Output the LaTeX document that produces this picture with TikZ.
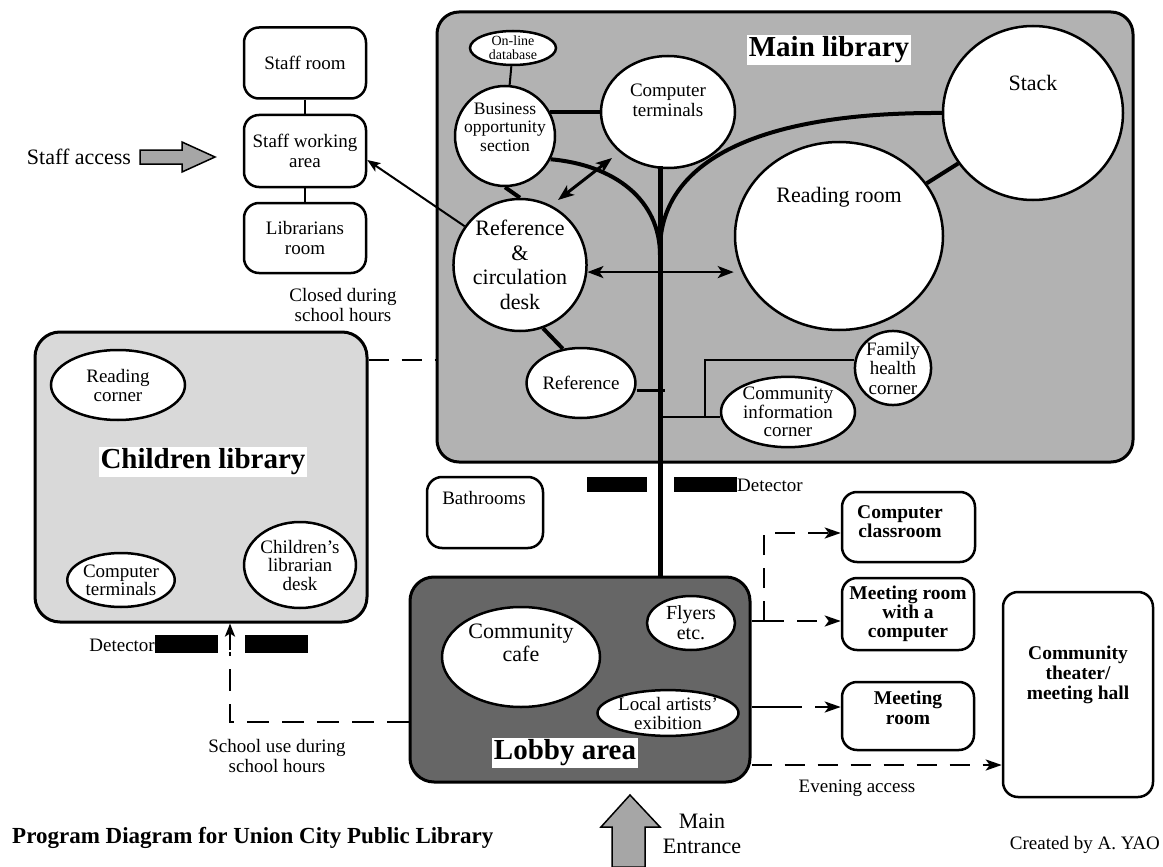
\documentclass[tikz,border=0pt]{standalone}
\usepackage{fontspec}
\setmainfont{Liberation Serif}
\usetikzlibrary{shapes.geometric,arrows.meta,calc}
\newcommand\fsz[2]{\fontsize{#1}{#2}\selectfont}

\begin{document}
\begin{tikzpicture}[x=1pt,y=-1pt,
  room/.style={draw,line width=2.5pt,rounded corners=15pt,align=center,inner sep=0pt,font=\fsz{19}{20}},
  bigroom/.style={room,font=\bfseries\fsz{19.5}{19}},
  zone/.style={draw,line width=3pt,rounded corners=22pt,inner sep=0pt},
  oval/.style={ellipse,draw,line width=2.5pt,fill=white,inner sep=0pt,align=center,font=\fsz{19}{19}},
  txt/.style={align=center,inner sep=0pt,font=\fsz{19}{20}},
  title/.style={fill=white,inner sep=2pt,font=\bfseries\fsz{29}{29}},
  heavy/.style={line width=4pt},
  link/.style={line width=2pt},
  spine/.style={line width=5pt},
  dashlink/.style={line width=2.5pt,dash pattern=on 20pt off 13pt},
  tip/.style={-{Stealth[length=16pt,width=11pt,inset=4pt]}},
  smalltip/.style={-{Stealth[length=13pt,width=10pt,inset=3pt]}},
  twotip/.style={{Stealth[length=16pt,width=12pt,inset=4pt]}-{Stealth[length=16pt,width=12pt,inset=4pt]}},
  detector/.style={fill=black},
  bigarrow/.style={draw,line width=1.5pt,fill=black!35,line join=miter},
]
\useasboundingbox (0,0) rectangle (1163,867);

% ---------- staff wing ----------
\node[room,minimum width=122pt,minimum height=71pt] (staffroom) at (305,63) {Staff room};
\node[room,minimum width=122pt,minimum height=72pt] (staffwork) at (305,151) {Staff working\\area};
\node[room,minimum width=122pt,minimum height=70pt] (librarians) at (305,238) {Librarians\\room};
\draw[link] (staffroom) -- (staffwork);
\draw[link] (staffwork) -- (librarians);
\node[txt,font=\fsz{22}{22}] (staffaccess) at (79,157) {Staff access};
\draw[bigarrow] (140,150) -- (182,150) -- (182,142) -- (215,157) -- (182,172) -- (182,164) -- (140,164) -- cycle;
\node[txt] (closed) at (343,305) {Closed during\\school hours};

% ---------- main library ----------
\node[zone,fill=black!30,minimum width=696pt,minimum height=450pt] (mainlib) at (785,237) {};
\node[title] (maintitle) at (829,50) {Main library};

\coordinate (spinetop) at (660,166);
\coordinate (leftjoin) at (660,255);
\coordinate (rightjoin) at (660,250);

\node[oval,minimum width=86pt,minimum height=34pt,font=\fsz{14}{14}] (online) at (513,48) {On-line\\database};
\node[oval,minimum width=100pt,minimum height=100pt] (business) at (505,136) {};
\node[txt,font=\fsz{17.5}{18.5}] at (505,127) {Business\\opportunity\\section};
\node[oval,minimum width=134pt,minimum height=112pt] (compterm) at (668,112) {};
\node[txt] at (668,100) {Computer\\terminals};
\node[oval,minimum width=132pt,minimum height=132pt,font=\fsz{22}{24.5}] (refdesk) at (520,265) {Reference\\\&\\circulation\\desk};
\node[oval,minimum width=208pt,minimum height=188pt] (reading) at (839,236) {};
\node[txt,font=\fsz{22}{22}] at (839,197) {Reading room};
\node[oval,minimum width=180pt,minimum height=174pt] (stack) at (1033,113) {};
\node[txt,font=\fsz{22}{22}] at (1033,83) {Stack};
\node[oval,minimum width=102pt,minimum height=70pt] (reference) at (581,383) {Reference};
\node[oval,minimum width=134pt,minimum height=70pt,font=\fsz{19}{18.5}] (comminfo) at (788,412) {Community\\information\\corner};
\node[oval,minimum width=74pt,minimum height=72pt,font=\fsz{19}{19.5}] (family) at (893,368) {Family\\health\\corner};

% circulation spine and branches
\draw[spine] (spinetop) -- (spinetop |- 0,577);
\draw[heavy] (business.-27) .. controls (615,165) and (660,200) .. (leftjoin);
\draw[heavy] (stack.west) .. controls (760,112) and (660,160) .. (rightjoin);
\draw[link] (online) -- (business);
\draw[heavy] (business.28) -- (business.28 -| compterm.west);
\draw[heavy] (business.south) -- (refdesk.north);
\draw[heavy] (reading.31) -- (stack.-146);
\draw[heavy] (refdesk.-70) -- (reference.118);
\draw[line width=3pt] ([yshift=-7pt]reference.east) -- ++(28,0);
\coordinate (junction) at (705,417);
\draw[link] (spinetop |- junction) -- ([yshift=-5pt]comminfo.west);
\draw[link] (junction) |- ([yshift=8pt]family.west);
\coordinate (diagA) at (558,200);
\coordinate (diagB) at (612,158);
\draw[line width=3pt,twotip] (diagA) -- (diagB);
\draw[line width=2.5pt,twotip] (refdesk.-6) -- (refdesk.-6 -| reading.west);
\draw[link,smalltip] (refdesk.145) -- ([yshift=-9pt]staffwork.east);

% entrance detectors
\fill[detector] (587,477) rectangle (647,492);
\fill[detector] (674,477) rectangle (737,492);
\node[txt,anchor=west] (detmain) at (737,485) {Detector};

% bathrooms
\node[room,minimum width=116pt,minimum height=71pt] (bath) at (485,512.5) {};
\node[txt] at (484,498) {Bathrooms};

% ---------- children library ----------
\node[zone,fill=black!15,rounded corners=25pt,minimum width=332pt,minimum height=290pt] (childlib) at (201,477) {};
\node[title] (childtitle) at (203,462) {Children library};
\node[oval,minimum width=134pt,minimum height=70pt] (readcorner) at (118,385) {Reading\\corner};
\node[oval,minimum width=104pt,minimum height=54pt,font=\fsz{19}{18}] (childterm) at (121,580) {Computer\\terminals};
\node[oval,minimum width=104pt,minimum height=86pt,font=\fsz{19}{18.5}] (childdesk) at (300,565) {Children's\\librarian\\desk};
\draw[dashlink] (childlib.east |- 0,360) -- (mainlib.west |- 0,360);

\node[txt,anchor=east] (detchild) at (155,645) {Detector};
\fill[detector] (155,635) rectangle (218,653);
\fill[detector] (245,635) rectangle (308,653);

% ---------- lobby ----------
\node[zone,fill=black!60,rounded corners=24pt,minimum width=340pt,minimum height=205pt] (lobby) at (580,679.5) {};
\node[oval,minimum width=158pt,minimum height=100pt,font=\fsz{22}{23}] (cafe) at (521,657) {};
\node[txt,font=\fsz{22}{23}] at (521,643) {Community\\cafe};
\node[oval,minimum width=88pt,minimum height=54pt,font=\fsz{20}{20}] (flyers) at (691,623) {Flyers\\etc.};
\node[oval,minimum width=134pt,minimum height=44pt,font=\fsz{19}{19}] (local) at (668,713) {Local artists'\\exibition};
\node[title] (lobbytitle) at (565,753) {Lobby area};

% ---------- rooms off the lobby ----------
\node[bigroom,minimum width=133pt,minimum height=70pt] (compclass) at (908.5,527) {};
\node[txt,font=\bfseries\fsz{19.5}{19}] at (900,522) {Computer\\classroom};
\node[bigroom,minimum width=132pt,minimum height=72pt] (mrcomp) at (908,614) {Meeting room\\with a\\computer};
\node[bigroom,minimum width=132pt,minimum height=68pt] (mroom) at (908,716) {};
\node[txt,font=\bfseries\fsz{19.5}{20}] at (908,708) {Meeting\\room};
\node[bigroom,minimum width=150pt,minimum height=205pt] (theater) at (1078,694.5) {};
\node[txt,font=\bfseries\fsz{19.5}{20}] at (1078,675) {Community\\theater/\\meeting hall};

\coordinate (split) at (764,621);
\draw[line width=2.5pt] (lobby.east |- split) -- (split);
\draw[dashlink,tip] (split) -- (split -| mrcomp.west);
\draw[dashlink,tip] (split) |- ([yshift=-6pt]compclass.west);
\coordinate (mroomsolid) at (782,707);
\draw[line width=2.5pt] (lobby.east |- mroomsolid) -- (mroomsolid);
\draw[dashlink,tip] (mroomsolid) -- (mroomsolid -| mroom.west);
\draw[dashlink,tip] (lobby.east |- 0,765) -- (theater.west |- 0,765);
\node[txt] (evening) at (857,788) {Evening access};

% school-hours route to the children library
\coordinate (schoolturn) at (230,722);
\draw[dashlink,dash pattern=on 22pt off 13pt] (lobby.west |- schoolturn) -- (schoolturn) -- ++(0,-70);
\draw[line width=2.5pt,smalltip] (230,650) -- (schoolturn |- childlib.south);
\node[txt] (schooluse) at (277,756) {School use during\\school hours};

% ---------- main entrance ----------
\draw[bigarrow] (612,867) -- (612,827) -- (601,827) -- (630,795) -- (660,827) -- (645,827) -- (645,867) -- cycle;
\node[txt,font=\fsz{22}{25}] (entrance) at (702,834) {Main\\Entrance};

% ---------- captions ----------
\node[txt,anchor=west,font=\bfseries\fsz{23}{23}] (caption) at (12,838) {Program Diagram for Union City Public Library};
\node[txt,anchor=east] (credit) at (1160,845) {Created by A. YAO};
\end{tikzpicture}
\end{document}
